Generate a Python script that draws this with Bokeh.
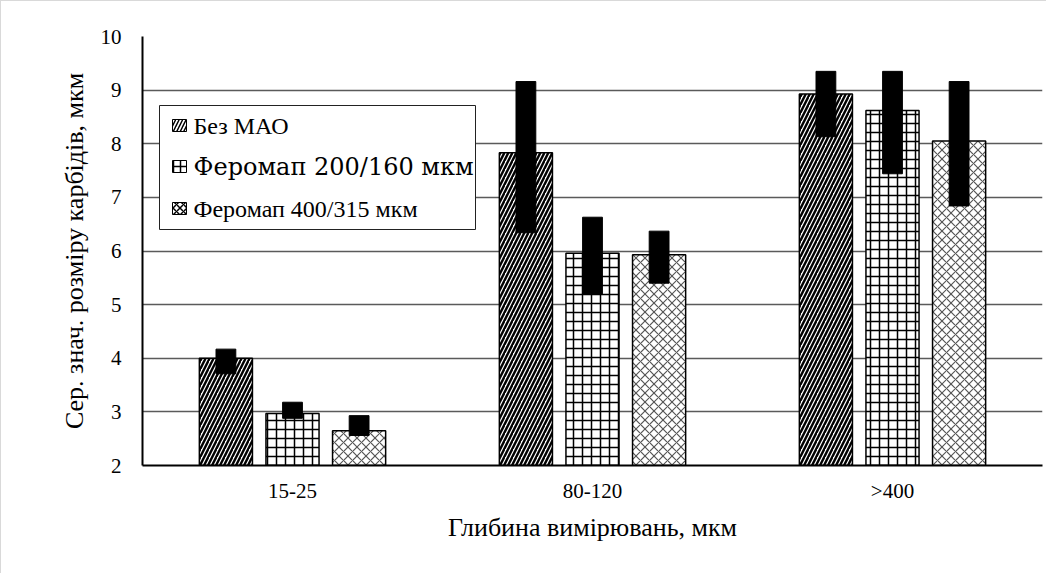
from bokeh.plotting import figure
from bokeh.models import ColumnDataSource, FactorRange, FixedTicker, BoxAnnotation
from bokeh.core.properties import value
from bokeh.transform import dodge
from bokeh.embed import file_html
from bokeh.resources import INLINE

categories = ["15-25", "80-120", ">400"]
series = ["Без МАО", "Феромап 200/160 мкм", "Феромап 400/315 мкм"]

bez_mao = [4.0, 7.83, 8.93]
feromap_200 = [2.97, 5.96, 8.62]
feromap_400 = [2.65, 5.93, 8.05]

bez_mao_lo = [3.71, 6.34, 8.13]
bez_mao_hi = [4.17, 9.16, 9.35]
feromap_200_lo = [2.88, 5.20, 7.44]
feromap_200_hi = [3.18, 6.63, 9.35]
feromap_400_lo = [2.56, 5.40, 6.84]
feromap_400_hi = [2.93, 6.37, 9.16]

y_ticks = [2, 3, 4, 5, 6, 7, 8, 9, 10]

FONT = "'Liberation Serif', 'Times New Roman', serif"

src = ColumnDataSource(dict(
    x=categories,
    s0=bez_mao, s1=feromap_200, s2=feromap_400,
    lo0=bez_mao_lo, hi0=bez_mao_hi,
    lo1=feromap_200_lo, hi1=feromap_200_hi,
    lo2=feromap_400_lo, hi2=feromap_400_hi,
))

W, H = 1046, 573
BL, BT = 141, 35
p = figure(x_range=FactorRange(*categories, range_padding=0), y_range=(2, 10),
           width=W, height=H, output_backend="svg", toolbar_location=None,
           min_border_left=BL, min_border_right=W - BL - 900,
           min_border_top=BT, min_border_bottom=H - BT - 429)
p.outline_line_color = None

offsets = [-0.222, 0.0, 0.222]
hatches = ["/", "+", "x"]
scales = [8, 9, 9]
hweights = [2.4, 1.5, 1.2]
hcolors = ["black", "black", "#555555"]
for i in range(3):
    p.vbar(x=dodge("x", offsets[i], range=p.x_range), top="s%d" % i, bottom=2,
           width=0.177, source=src, fill_color="white", line_color="black",
           line_width=1.5, hatch_pattern=hatches[i], hatch_scale=scales[i],
           hatch_weight=hweights[i], hatch_color=hcolors[i])
for i in range(3):
    p.vbar(x=dodge("x", offsets[i], range=p.x_range), top="hi%d" % i, bottom="lo%d" % i,
           width=0.066, source=src, fill_color="black", line_color="black", line_width=1)

# legend (layout in synthetic categorical x units / data y units)
PX = 1 / 300.0
PY = 8 / 429.0
def ypix(py):
    return 2 + (466 - py) * PY
def xpix(px):
    return (px - 142) * PX

p.add_layout(BoxAnnotation(left=xpix(159), right=xpix(475), top=ypix(106), bottom=ypix(230),
                           fill_color="white", fill_alpha=1, line_color="#222222", line_width=1,
                           line_alpha=1))
row_y = [126, 167, 209]
for i in range(3):
    p.add_layout(BoxAnnotation(left=xpix(172), right=xpix(186), top=ypix(row_y[i] - 6),
                               bottom=ypix(row_y[i] + 6), fill_color="white", fill_alpha=1,
                               line_color="black", line_width=1, line_alpha=1,
                               hatch_pattern=hatches[i], hatch_scale=7, hatch_weight=1.5,
                               hatch_color="black"))
test_fonts = ["Times New Roman", "DejaVu Serif", "serif"]
for i in range(3):
    one = ColumnDataSource(dict(x=[xpix(193)], y=[ypix(row_y[i])], t=[series[i]]))
    p.text(x="x", y="y", text="t", source=one, text_font=value(test_fonts[i]),
           text_font_size="24px", text_baseline="middle", text_align="left",
           text_color="black", level="overlay")

p.yaxis.ticker = FixedTicker(ticks=y_ticks)
p.ygrid.ticker = FixedTicker(ticks=y_ticks)
p.ygrid.grid_line_color = "#5a5a5a"
p.ygrid.grid_line_width = 1.5
p.xgrid.grid_line_color = None

for ax in (p.xaxis, p.yaxis):
    ax.axis_line_color = "black"
    ax.axis_line_width = 2
    ax.major_tick_line_color = None
    ax.minor_tick_line_color = None
    ax.major_label_text_font = FONT
    ax.major_label_text_font_size = "21px"
    ax.major_label_text_color = "black"
    ax.axis_label_text_font = FONT
    ax.axis_label_text_font_size = "26px"
    ax.axis_label_text_font_style = "normal"
    ax.axis_label_text_color = "black"

p.yaxis.major_label_standoff = 15
p.xaxis.major_label_standoff = 7
p.yaxis.axis_label = "Сер. знач. розміру карбідів, мкм"
p.xaxis.axis_label = "Глибина вимірювань, мкм"
p.yaxis.axis_label_standoff = 9
p.xaxis.axis_label_standoff = 7
p.xaxis.group_text_font_size = "0px"

p.styles = {"border-left": "1px solid #d9d9d9", "border-top": "1px solid #d9d9d9"}

open("out.html", "w").write(file_html(p, INLINE))
